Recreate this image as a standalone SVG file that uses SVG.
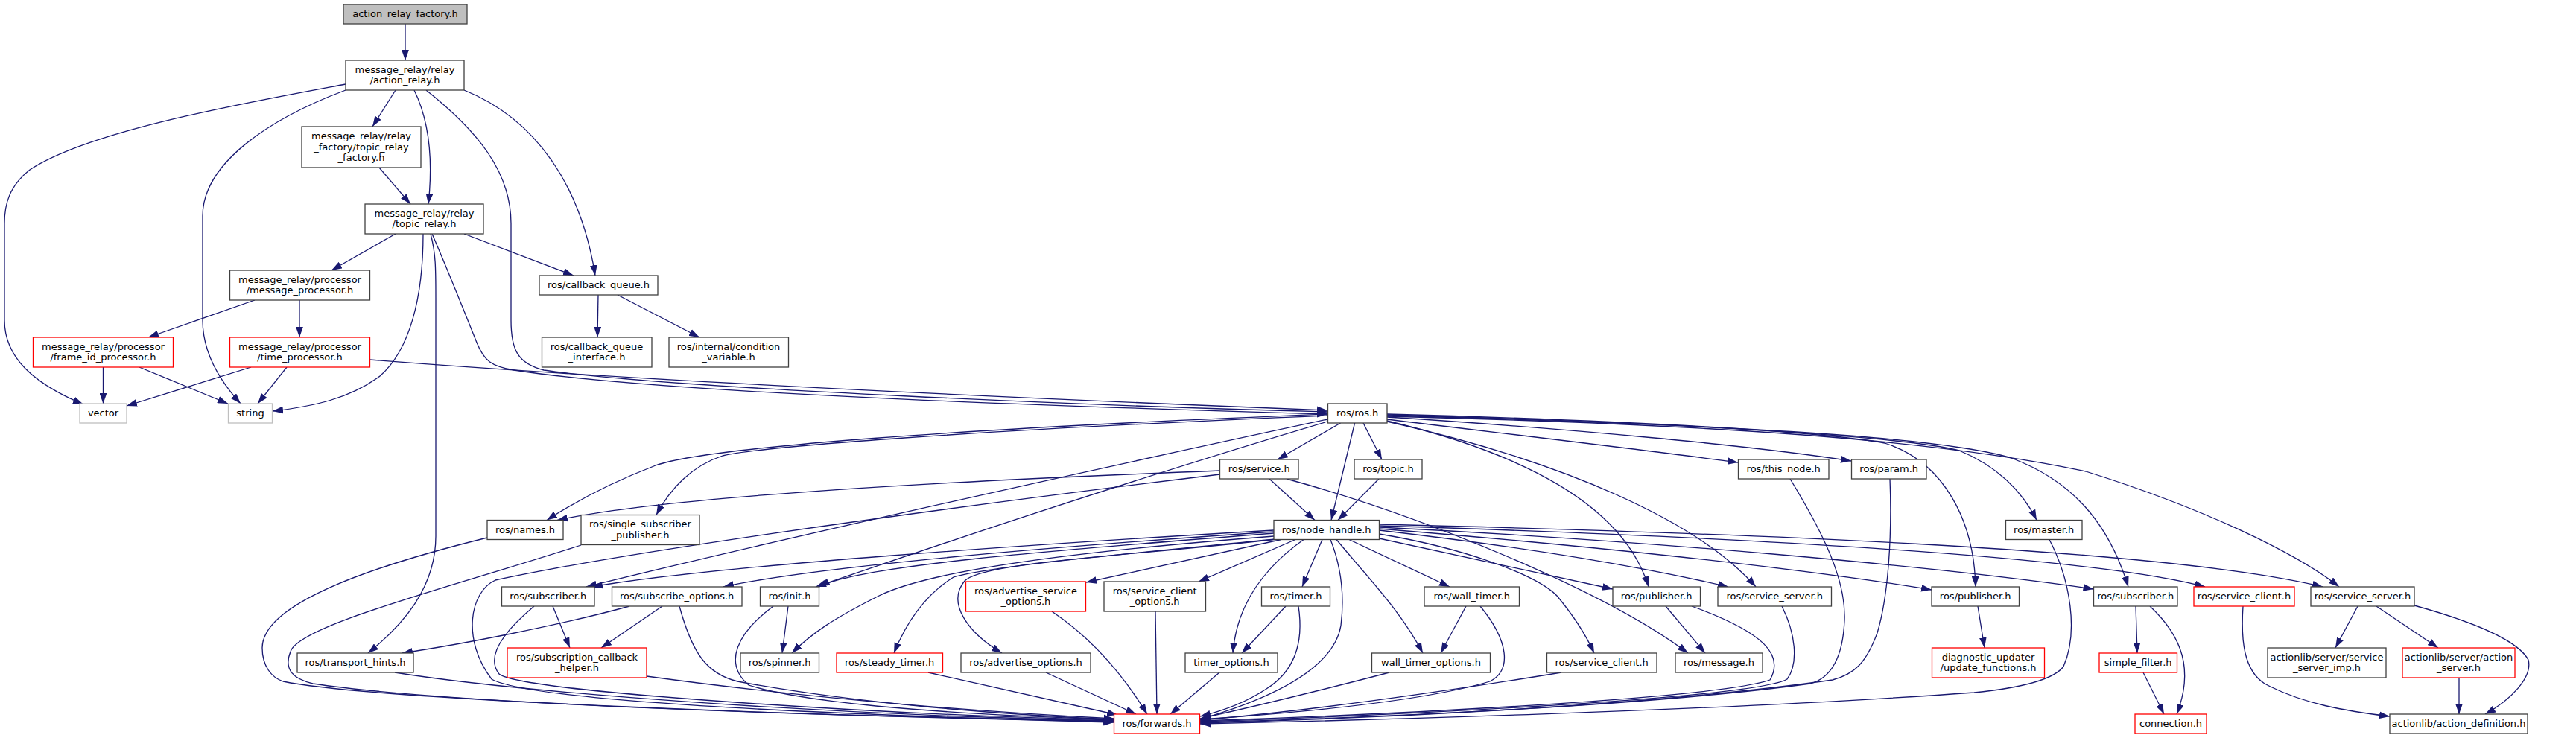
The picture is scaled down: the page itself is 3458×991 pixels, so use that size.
<svg xmlns="http://www.w3.org/2000/svg" width="3458" height="991" viewBox="0 0 3458 991">
<style>
.node rect{fill:#ffffff;stroke:#404040;stroke-width:1.3}
.node rect.root{fill:#bfbfbf}
.node rect.red{stroke:#ff0000}
.node rect.ext{stroke:#bfbfbf}
.node text{font-family:"DejaVu Sans","Liberation Sans",sans-serif;font-size:13px;fill:#000000;text-anchor:middle}
#edges path{fill:none;stroke:#191970;stroke-width:1.3;marker-end:url(#arr)}
</style>
<defs>
<marker id="arr" markerUnits="userSpaceOnUse" markerWidth="14" markerHeight="10" refX="13.3" refY="4.65" orient="auto" viewBox="0 0 13.3 9.3"><path d="M0,0 L13.3,4.65 L0,9.3 z" fill="#191970"/></marker>
</defs>
<rect x="0" y="0" width="3458" height="991" fill="#ffffff"/>
<g id="edges">
<path d="M544,32 L544,81"/>
<path d="M464,113 C330,138 120,175 40,228 C12,250 6,275 6,300 L6,430 C6,480 45,515 112,543"/>
<path d="M464,121 C360,160 272,220 272,290 L272,430 C272,470 292,508 323,542"/>
<path d="M531,121 L500,170"/>
<path d="M556,121 C575,160 582,210 575,274"/>
<path d="M623,121 C720,160 780,250 799,370"/>
<path d="M572,121 C640,175 686,230 686,300 L686,430 C686,470 695,488 730,497 C900,522 1500,546 1782,553"/>
<path d="M509,225 L551,274"/>
<path d="M531,314 L445,363"/>
<path d="M623,314 L770,370"/>
<path d="M568,314 C568,400 550,470 510,505 C470,535 420,546 366,552"/>
<path d="M578,314 C585,340 585,360 585,400 L585,720 C585,790 540,840 494,877"/>
<path d="M580,314 C600,360 620,410 640,460 C650,485 660,492 690,497 C900,530 1500,548 1782,556"/>
<path d="M342,403 L199,453"/>
<path d="M402,403 L402,453"/>
<path d="M138.5,493 L138.5,542"/>
<path d="M187,493 L306,542"/>
<path d="M337,493 L170,545"/>
<path d="M385,493 L346,542"/>
<path d="M496,483 C900,515 1500,540 1782,551"/>
<path d="M803,396 L802,453"/>
<path d="M829,396 L939,453"/>
<path d="M1782,556 C1300,575 950,600 880,625 C820,648 770,675 734,698.5"/>
<path d="M1782,558 C1300,578 1020,600 970,612 C930,625 900,655 881,691.5"/>
<path d="M1799.5,568 L1715,617"/>
<path d="M1818.6,568 L1787,698.5"/>
<path d="M1830,568 L1855,617"/>
<path d="M1782,563 C1400,645 1000,735 787,788"/>
<path d="M1782,566 C1500,650 1250,735 1095,788"/>
<path d="M1862,563 C2000,580 2200,603 2333,621"/>
<path d="M1862,560 C2100,575 2350,598 2485,619"/>
<path d="M1862,565 C2050,610 2180,680 2213,788"/>
<path d="M1862,566 C2100,620 2280,700 2357,788"/>
<path d="M1862,556 C2200,565 2450,580 2530,595 C2610,620 2650,700 2652,788"/>
<path d="M1862,557 C2250,568 2550,585 2630,605 C2680,625 2715,660 2734,698.5"/>
<path d="M1862,558 C2300,570 2600,585 2700,615 C2780,645 2830,700 2857,788"/>
<path d="M1862,559 C2300,570 2600,590 2800,633 C2950,680 3080,740 3140,788"/>
<path d="M1710,712 C1400,730 950,760 795,788"/>
<path d="M1710,714 C1400,735 1100,760 971,788"/>
<path d="M1710,716 C1400,740 1150,760 1100,788"/>
<path d="M1710,720 C1450,740 1250,765 1180,800 C1120,830 1090,850 1063,877"/>
<path d="M1712,724 C1500,745 1330,760 1280,775 C1240,800 1215,840 1200,877"/>
<path d="M1715,724 C1500,748 1320,755 1295,780 C1270,810 1300,850 1345,877"/>
<path d="M1720,724.5 L1458,782"/>
<path d="M1739,724.5 L1609,781"/>
<path d="M1750,724.5 C1700,760 1660,810 1655,877"/>
<path d="M1775,724.5 L1748,788"/>
<path d="M1786,724.5 C1800,760 1805,800 1800,840 C1790,900 1700,940 1611,966"/>
<path d="M1794,724.5 C1840,780 1880,820 1910,877"/>
<path d="M1811,724.5 L1946,788"/>
<path d="M1851.5,717 C1960,735 2060,770 2090,800 C2115,830 2130,855 2140,877"/>
<path d="M1851.5,723 L2165,791"/>
<path d="M1851.5,712 C2050,735 2200,760 2320,788"/>
<path d="M1851.5,710 C2100,730 2400,760 2593,792"/>
<path d="M1851.5,708 C2200,725 2600,760 2810.5,791"/>
<path d="M1851.5,706 C2300,720 2800,745 2960,788"/>
<path d="M1851.5,704 C2300,715 2900,735 3118,788"/>
<path d="M1704,643 L1765,698.5"/>
<path d="M1851,643 L1796,698.5"/>
<path d="M1637.5,632 C1300,645 900,665 748,698.5"/>
<path d="M1637.5,637 C1200,690 820,745 665,779 C630,795 620,860 660,912 C720,945 1200,962 1495.5,970"/>
<path d="M1727,643 C1900,690 2150,790 2266,877"/>
<path d="M654,722 C500,760 352,810 352,870 C352,895 365,910 380,915 C500,940 1100,962 1495.5,969"/>
<path d="M780,732 C600,790 400,840 390,875 C380,900 395,912 420,918 C600,945 1100,962 1495.5,968"/>
<path d="M742,814 L765,870"/>
<path d="M717,814 C680,845 650,880 670,905 C700,930 1200,960 1495.5,967"/>
<path d="M889,814 L807,870"/>
<path d="M845,814 C750,840 620,865 540,877"/>
<path d="M912,814 C930,880 950,905 990,915 C1150,945 1350,960 1495.5,966"/>
<path d="M1058,814 L1050,877"/>
<path d="M1038,814 C990,850 970,890 1005,920 C1100,950 1350,962 1495.5,966"/>
<path d="M868,908 C1100,940 1350,958 1495.5,965"/>
<path d="M530,903 C700,930 1100,960 1495.5,968"/>
<path d="M1246,903 L1500,960"/>
<path d="M1404,903 L1525,959"/>
<path d="M1412,821 C1470,860 1510,910 1540,959"/>
<path d="M1551,821 L1553,959"/>
<path d="M1637,903 L1571,959"/>
<path d="M1726,814 L1667,877"/>
<path d="M1743,814 C1750,860 1740,900 1700,925 C1670,945 1640,955 1611,962"/>
<path d="M1968,814 L1934,877"/>
<path d="M1987,814 C2025,860 2030,900 2000,915 C1900,945 1700,960 1611,966"/>
<path d="M1865,903 C1800,920 1700,945 1611,965"/>
<path d="M2096,903 C1900,935 1750,955 1611,967"/>
<path d="M2236,814 L2289,877"/>
<path d="M2271,814 C2370,850 2395,880 2376,913 C2300,940 1800,962 1611,968"/>
<path d="M2392,814 C2410,850 2415,890 2399,912 C2350,940 1800,963 1611,969"/>
<path d="M2403,643 C2450,720 2478,780 2476,833 C2474,880 2460,910 2430,918 C2200,950 1800,965 1611,970"/>
<path d="M2537,643 C2540,720 2535,800 2520,850 C2505,890 2490,905 2460,913 C2200,950 1800,966 1611,971"/>
<path d="M2751,724.5 C2780,780 2790,850 2770,895 C2755,915 2700,925 2650,930 C2300,955 1800,968 1611,972"/>
<path d="M2655,814 L2664,870"/>
<path d="M2867,814 L2869,877"/>
<path d="M2886,814 C2930,855 2945,900 2922,959"/>
<path d="M2877,903 L2905,959"/>
<path d="M3011,814 C3008,860 3012,900 3040,918 C3090,945 3150,955 3208,962"/>
<path d="M3165,814 L3135,870"/>
<path d="M3190,814 L3273,870"/>
<path d="M3241,813 C3320,835 3380,860 3394,886 C3400,910 3370,940 3336,959"/>
<path d="M3301,910 L3301,959"/>
</g>
<g id="n1" class="node"><rect class="root" x="461" y="6" width="166" height="26"/><text x="544" y="23">action_relay_factory.h</text></g>
<g id="n2" class="node"><rect x="464" y="81" width="159" height="40"/><text x="543.5" y="97.5">message_relay/relay</text><text x="543.5" y="112">/action_relay.h</text></g>
<g id="n3" class="node"><rect x="405" y="170" width="160" height="55"/><text x="485" y="187">message_relay/relay</text><text x="485" y="201.5">_factory/topic_relay</text><text x="485" y="216">_factory.h</text></g>
<g id="n4" class="node"><rect x="490" y="274" width="159" height="40"/><text x="569.5" y="290.5">message_relay/relay</text><text x="569.5" y="305">/topic_relay.h</text></g>
<g id="n5" class="node"><rect x="308.5" y="363" width="188" height="40"/><text x="402.5" y="379.5">message_relay/processor</text><text x="402.5" y="394">/message_processor.h</text></g>
<g id="n6" class="node"><rect class="red" x="44.5" y="453" width="188" height="40"/><text x="138.5" y="469.5">message_relay/processor</text><text x="138.5" y="484">/frame_id_processor.h</text></g>
<g id="n7" class="node"><rect class="red" x="308.5" y="453" width="188" height="40"/><text x="402.5" y="469.5">message_relay/processor</text><text x="402.5" y="484">/time_processor.h</text></g>
<g id="n8" class="node"><rect x="724" y="370" width="159" height="26"/><text x="803.5" y="387">ros/callback_queue.h</text></g>
<g id="n9" class="node"><rect x="727.5" y="453" width="147.5" height="40"/><text x="801" y="469.5">ros/callback_queue</text><text x="801" y="484">_interface.h</text></g>
<g id="n10" class="node"><rect x="898" y="453" width="160.5" height="40"/><text x="978" y="469.5">ros/internal/condition</text><text x="978" y="484">_variable.h</text></g>
<g id="n11" class="node"><rect class="ext" x="107" y="542" width="63" height="26"/><text x="138.5" y="559">vector</text></g>
<g id="n12" class="node"><rect class="ext" x="306.5" y="542" width="59" height="26"/><text x="336" y="559">string</text></g>
<g id="n13" class="node"><rect x="399" y="877" width="156" height="26"/><text x="477" y="894">ros/transport_hints.h</text></g>
<g id="n14" class="node"><rect x="654" y="698.5" width="102" height="26"/><text x="705" y="715.5">ros/names.h</text></g>
<g id="n15" class="node"><rect x="780" y="691.5" width="159" height="40"/><text x="859.5" y="708">ros/single_subscriber</text><text x="859.5" y="722.5">_publisher.h</text></g>
<g id="n16" class="node"><rect x="673.5" y="788" width="124.5" height="26"/><text x="735.7" y="805">ros/subscriber.h</text></g>
<g id="n17" class="node"><rect x="821.5" y="788" width="174.5" height="26"/><text x="908.7" y="805">ros/subscribe_options.h</text></g>
<g id="n18" class="node"><rect x="1020.5" y="788" width="79" height="26"/><text x="1060" y="805">ros/init.h</text></g>
<g id="n19" class="node"><rect class="red" x="681" y="870" width="187" height="40"/><text x="774.5" y="886.5">ros/subscription_callback</text><text x="774.5" y="901">_helper.h</text></g>
<g id="n20" class="node"><rect x="994" y="877" width="105.5" height="26"/><text x="1046.7" y="894">ros/spinner.h</text></g>
<g id="n21" class="node"><rect class="red" x="1123" y="877" width="142.5" height="26"/><text x="1194.2" y="894">ros/steady_timer.h</text></g>
<g id="n22" class="node"><rect x="1637.5" y="617" width="105.5" height="26"/><text x="1690.2" y="634">ros/service.h</text></g>
<g id="n23" class="node"><rect x="1710" y="698.5" width="141.5" height="26"/><text x="1780.7" y="715.5">ros/node_handle.h</text></g>
<g id="n24" class="node"><rect class="red" x="1296.5" y="781" width="161" height="40"/><text x="1377" y="797.5">ros/advertise_service</text><text x="1377" y="812">_options.h</text></g>
<g id="n25" class="node"><rect x="1482" y="781" width="136.5" height="40"/><text x="1550.2" y="797.5">ros/service_client</text><text x="1550.2" y="812">_options.h</text></g>
<g id="n26" class="node"><rect x="1693.5" y="788" width="92" height="26"/><text x="1739.5" y="805">ros/timer.h</text></g>
<g id="n27" class="node"><rect x="1290" y="877" width="174" height="26"/><text x="1377" y="894">ros/advertise_options.h</text></g>
<g id="n28" class="node"><rect x="1591" y="877" width="124" height="26"/><text x="1653" y="894">timer_options.h</text></g>
<g id="n29" class="node"><rect class="red" x="1495.5" y="959" width="115" height="26"/><text x="1553" y="976">ros/forwards.h</text></g>
<g id="n30" class="node"><rect x="1782.5" y="542" width="79.5" height="26"/><text x="1822.2" y="559">ros/ros.h</text></g>
<g id="n31" class="node"><rect x="1818" y="617" width="91" height="26"/><text x="1863.5" y="634">ros/topic.h</text></g>
<g id="n32" class="node"><rect x="1912" y="788" width="127.5" height="26"/><text x="1975.7" y="805">ros/wall_timer.h</text></g>
<g id="n33" class="node"><rect x="2165" y="788" width="117.5" height="26"/><text x="2223.7" y="805">ros/publisher.h</text></g>
<g id="n34" class="node"><rect x="1841.5" y="877" width="159" height="26"/><text x="1921" y="894">wall_timer_options.h</text></g>
<g id="n35" class="node"><rect x="2076.5" y="877" width="147.5" height="26"/><text x="2150.2" y="894">ros/service_client.h</text></g>
<g id="n36" class="node"><rect x="2249" y="877" width="117" height="26"/><text x="2307.5" y="894">ros/message.h</text></g>
<g id="n37" class="node"><rect x="2333.5" y="617" width="121.5" height="26"/><text x="2394.2" y="634">ros/this_node.h</text></g>
<g id="n38" class="node"><rect x="2485.5" y="617" width="100.5" height="26"/><text x="2535.7" y="634">ros/param.h</text></g>
<g id="n39" class="node"><rect x="2692.5" y="698.5" width="102.5" height="26"/><text x="2743.7" y="715.5">ros/master.h</text></g>
<g id="n40" class="node"><rect x="2306" y="788" width="152.5" height="26"/><text x="2382.2" y="805">ros/service_server.h</text></g>
<g id="n41" class="node"><rect x="2593" y="788" width="117.5" height="26"/><text x="2651.7" y="805">ros/publisher.h</text></g>
<g id="n42" class="node"><rect class="red" x="2593.5" y="870" width="151" height="40"/><text x="2669" y="886.5">diagnostic_updater</text><text x="2669" y="901">/update_functions.h</text></g>
<g id="n43" class="node"><rect x="2810.5" y="788" width="112.5" height="26"/><text x="2866.7" y="805">ros/subscriber.h</text></g>
<g id="n44" class="node"><rect class="red" x="2945" y="788" width="135" height="26"/><text x="3012.5" y="805">ros/service_client.h</text></g>
<g id="n45" class="node"><rect x="3102" y="788" width="139" height="26"/><text x="3171.5" y="805">ros/service_server.h</text></g>
<g id="n46" class="node"><rect class="red" x="2818" y="877" width="104.5" height="26"/><text x="2870.2" y="894">simple_filter.h</text></g>
<g id="n47" class="node"><rect x="3044" y="870" width="159" height="40"/><text x="3123.5" y="886.5">actionlib/server/service</text><text x="3123.5" y="901">_server_imp.h</text></g>
<g id="n48" class="node"><rect class="red" x="3225" y="870" width="151" height="40"/><text x="3300.5" y="886.5">actionlib/server/action</text><text x="3300.5" y="901">_server.h</text></g>
<g id="n49" class="node"><rect class="red" x="2866" y="959" width="96" height="26"/><text x="2914" y="976">connection.h</text></g>
<g id="n50" class="node"><rect x="3208" y="959" width="185" height="26"/><text x="3300.5" y="976">actionlib/action_definition.h</text></g>
</svg>
